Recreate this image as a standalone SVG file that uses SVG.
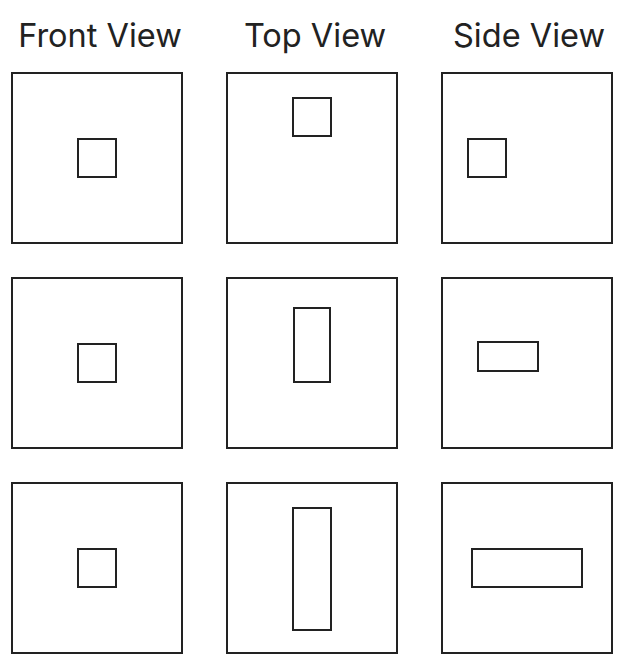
<svg xmlns="http://www.w3.org/2000/svg" width="624" height="669" viewBox="0 0 624 669">
<style>
.t{font-family:Inter,"Noto Sans",sans-serif;font-size:32.5px;font-weight:400;fill:#222;text-anchor:middle}
rect{fill:none;stroke:#222;stroke-width:2}
</style>
<rect x="0" y="0" width="624" height="669" style="fill:#fff;stroke:none"/>
<g id="headers">
<text class="t" x="100" y="47">Front View</text>
<text class="t" x="315" y="47">Top View</text>
<text class="t" x="529" y="47">Side View</text>
</g>
<g id="front-1"><rect x="12" y="73" width="170" height="170"/><rect x="78" y="139" width="38" height="38"/></g>
<g id="top-1"><rect x="227" y="73" width="170" height="170"/><rect x="293" y="98" width="38" height="38"/></g>
<g id="side-1"><rect x="442" y="73" width="170" height="170"/><rect x="468" y="139" width="38" height="38"/></g>
<g id="front-2"><rect x="12" y="278" width="170" height="170"/><rect x="78" y="344" width="38" height="38"/></g>
<g id="top-2"><rect x="227" y="278" width="170" height="170"/><rect x="294" y="308" width="36" height="74"/></g>
<g id="side-2"><rect x="442" y="278" width="170" height="170"/><rect x="478" y="342" width="60" height="29"/></g>
<g id="front-3"><rect x="12" y="483" width="170" height="170"/><rect x="78" y="549" width="38" height="38"/></g>
<g id="top-3"><rect x="227" y="483" width="170" height="170"/><rect x="293" y="508" width="38" height="122"/></g>
<g id="side-3"><rect x="442" y="483" width="170" height="170"/><rect x="472" y="549" width="110" height="38"/></g>
</svg>
